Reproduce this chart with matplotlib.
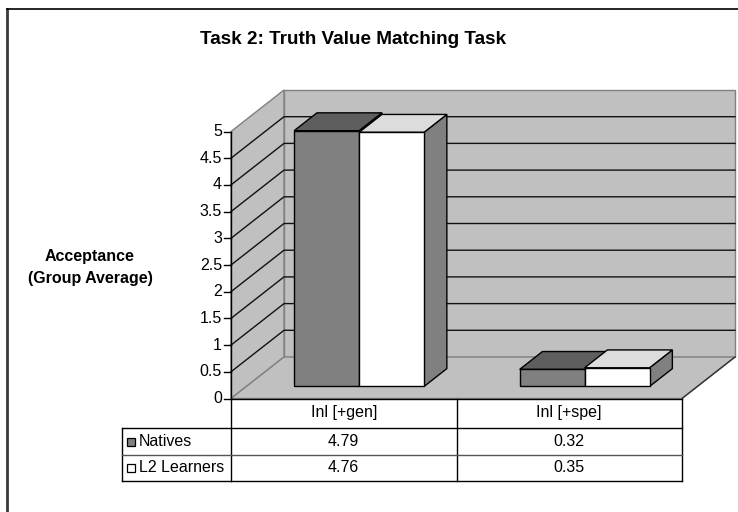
import matplotlib
matplotlib.use("Agg")
import matplotlib.pyplot as plt
from matplotlib.patches import Polygon

plt.rcParams['font.family'] = ['Liberation Sans', 'DejaVu Sans']

# ---------------- data ----------------
title = "Task 2: Truth Value Matching Task"
ylabel_lines = ["Acceptance", "(Group Average)"]
categories = ["Inl [+gen]", "Inl [+spe]"]
series_names = ["Natives", "L2 Learners"]
natives = [4.79, 0.32]
l2_learners = [4.76, 0.35]
y_ticks = [0, 0.5, 1, 1.5, 2, 2.5, 3, 3.5, 4, 4.5, 5]
y_tick_labels = ["0", "0.5", "1", "1.5", "2", "2.5", "3", "3.5", "4", "4.5", "5"]
value_labels = [["4.79", "0.32"], ["4.76", "0.35"]]

# ---------------- style ----------------
front_cols = ["#808080", "#FFFFFF"]
top_cols = ["#5E5E5E", "#DCDCDC"]
side_cols = ["#4A4A4A", "#808080"]
wall_col = "#C0C0C0"
edge_gray = "#808080"
FS = 11.5

# ---------------- layout (pixels) ----------------
W, H = 738, 512
X0, Y0 = 231, 398.5      # front-left origin of plot area
CAT_W = 225.5            # pixels per category
VAL_H = 53.4             # pixels per value unit
DEPTH_X, DEPTH_Y = 53, 41.5
BAR_HALF_GROUP = 0.288   # half width of a bar group (category units)
D0, D1 = 0.29, 0.72      # bar depth extent (fraction of depth)
VMAX = 5

fig = plt.figure(figsize=(W / 100, H / 100), dpi=100)
fig.patch.set_facecolor("white")

ax = fig.add_axes([0, 0, 1, 1])
ax.set_xlim(-X0 / CAT_W, (W - X0) / CAT_W)
ax.set_ylim(-(H - Y0) / VAL_H, Y0 / VAL_H)
ax.axis("off")

dcx = DEPTH_X / CAT_W
dvy = DEPTH_Y / VAL_H


def P(c, v, d):
    return (c + d * dcx, v + d * dvy)


ncat = len(categories)

# walls and floor
floor = Polygon([P(0, 0, 0), P(ncat, 0, 0), P(ncat, 0, 1), P(0, 0, 1)],
                closed=True, facecolor=wall_col, edgecolor=edge_gray, lw=1.0, zorder=1)
back = Polygon([P(0, 0, 1), P(ncat, 0, 1), P(ncat, VMAX, 1), P(0, VMAX, 1)],
               closed=True, facecolor=wall_col, edgecolor=edge_gray, lw=1.0, zorder=1)
left = Polygon([P(0, 0, 0), P(0, 0, 1), P(0, VMAX, 1), P(0, VMAX, 0)],
               closed=True, facecolor=wall_col, edgecolor=edge_gray, lw=1.0, zorder=1)
for p in (back, left, floor):
    ax.add_patch(p)

# gridlines
for v in y_ticks:
    if v == 0 or v == VMAX:
        continue
    pts = [P(0, v, 0), P(0, v, 1), P(ncat, v, 1)]
    ax.plot([q[0] for q in pts], [q[1] for q in pts], color="#111111", lw=1.0, zorder=2)

# floor front edge (black) and floor right edge
for a, b, col in [(P(0, 0, 0), P(ncat, 0, 0), "black"),
                  (P(ncat, 0, 0), P(ncat, 0, 1), "#333333")]:
    ax.plot([a[0], b[0]], [a[1], b[1]], color=col, lw=1.0, zorder=3)

# bars
series = [natives, l2_learners]
bw = BAR_HALF_GROUP
for ci in range(ncat):
    center = ci + 0.5
    for si, vals in enumerate(series):
        v = vals[ci]
        x0 = center - bw + si * bw
        x1 = x0 + bw
        side = [P(x1, 0, D0), P(x1, 0, D1), P(x1, v, D1), P(x1, v, D0)]
        top = [P(x0, v, D0), P(x1, v, D0), P(x1, v, D1), P(x0, v, D1)]
        front = [P(x0, 0, D0), P(x1, 0, D0), P(x1, v, D0), P(x0, v, D0)]
        z = 4 + ci * 3 + si
        for poly, fc in [(side, side_cols[si]), (top, top_cols[si]), (front, front_cols[si])]:
            ax.add_patch(Polygon(poly, closed=True, facecolor=fc, edgecolor="black",
                                 lw=1.0, joinstyle="miter", zorder=z))

# value axis
ax.plot([0, 0], [0, VMAX], color="black", lw=1.0, zorder=20)
tick_len = 7 / CAT_W
for v, lab in zip(y_ticks, y_tick_labels):
    ax.plot([-tick_len, 0], [v, v], color="black", lw=1.0, zorder=20)
    ax.text(-tick_len - 2 / CAT_W, v, lab, ha="right", va="center", fontsize=FS, color="black")

# ---------------- decorations in pixel space ----------------
deco = fig.add_axes([0, 0, 1, 1], facecolor="none")
deco.set_xlim(0, W)
deco.set_ylim(H, 0)
deco.axis("off")

# outer frame (only left and top edges visible)
deco.plot([7, 7], [9, H], color="#3A3A3A", lw=2.0)
deco.plot([7, W], [9, 9], color="black", lw=1.2)

deco.text(353, 39, title, ha="center", va="center", fontsize=13.6, fontweight="bold")
deco.text(90, 257, ylabel_lines[0], ha="center", va="center", fontsize=FS, fontweight="bold")
deco.text(90, 279, ylabel_lines[1], ha="center", va="center", fontsize=FS, fontweight="bold")

# data table
T_LEFT = 122
ROW_Y = [Y0, 428, 455, 481]
col_x = [X0 + i * CAT_W for i in range(ncat + 1)]
for x in col_x:
    deco.plot([x, x], [ROW_Y[0], ROW_Y[-1]], color="black", lw=1.0)
deco.plot([T_LEFT, T_LEFT], [ROW_Y[1], ROW_Y[-1]], color="black", lw=1.0)
deco.plot([T_LEFT, col_x[-1]], [ROW_Y[1], ROW_Y[1]], color="black", lw=1.0)
deco.plot([T_LEFT, col_x[-1]], [ROW_Y[2], ROW_Y[2]], color="#555555", lw=1.0)
deco.plot([T_LEFT, col_x[-1]], [ROW_Y[3], ROW_Y[3]], color="black", lw=1.0)

for ci, cat in enumerate(categories):
    cx = (col_x[ci] + col_x[ci + 1]) / 2
    deco.text(cx, (ROW_Y[0] + ROW_Y[1]) / 2 - 1, cat, ha="center", va="center", fontsize=FS)
    for si in range(len(series_names)):
        cy = (ROW_Y[si + 1] + ROW_Y[si + 2]) / 2
        deco.text(cx, cy, value_labels[si][ci], ha="center", va="center", fontsize=FS)

for si, name in enumerate(series_names):
    cy = (ROW_Y[si + 1] + ROW_Y[si + 2]) / 2
    deco.add_patch(plt.Rectangle((127, cy - 4), 8, 8, facecolor=front_cols[si],
                                 edgecolor="black", lw=0.9))
    deco.text(139, cy, name, ha="left", va="center", fontsize=FS)

fig.savefig("out.png", dpi=100, facecolor="white")
